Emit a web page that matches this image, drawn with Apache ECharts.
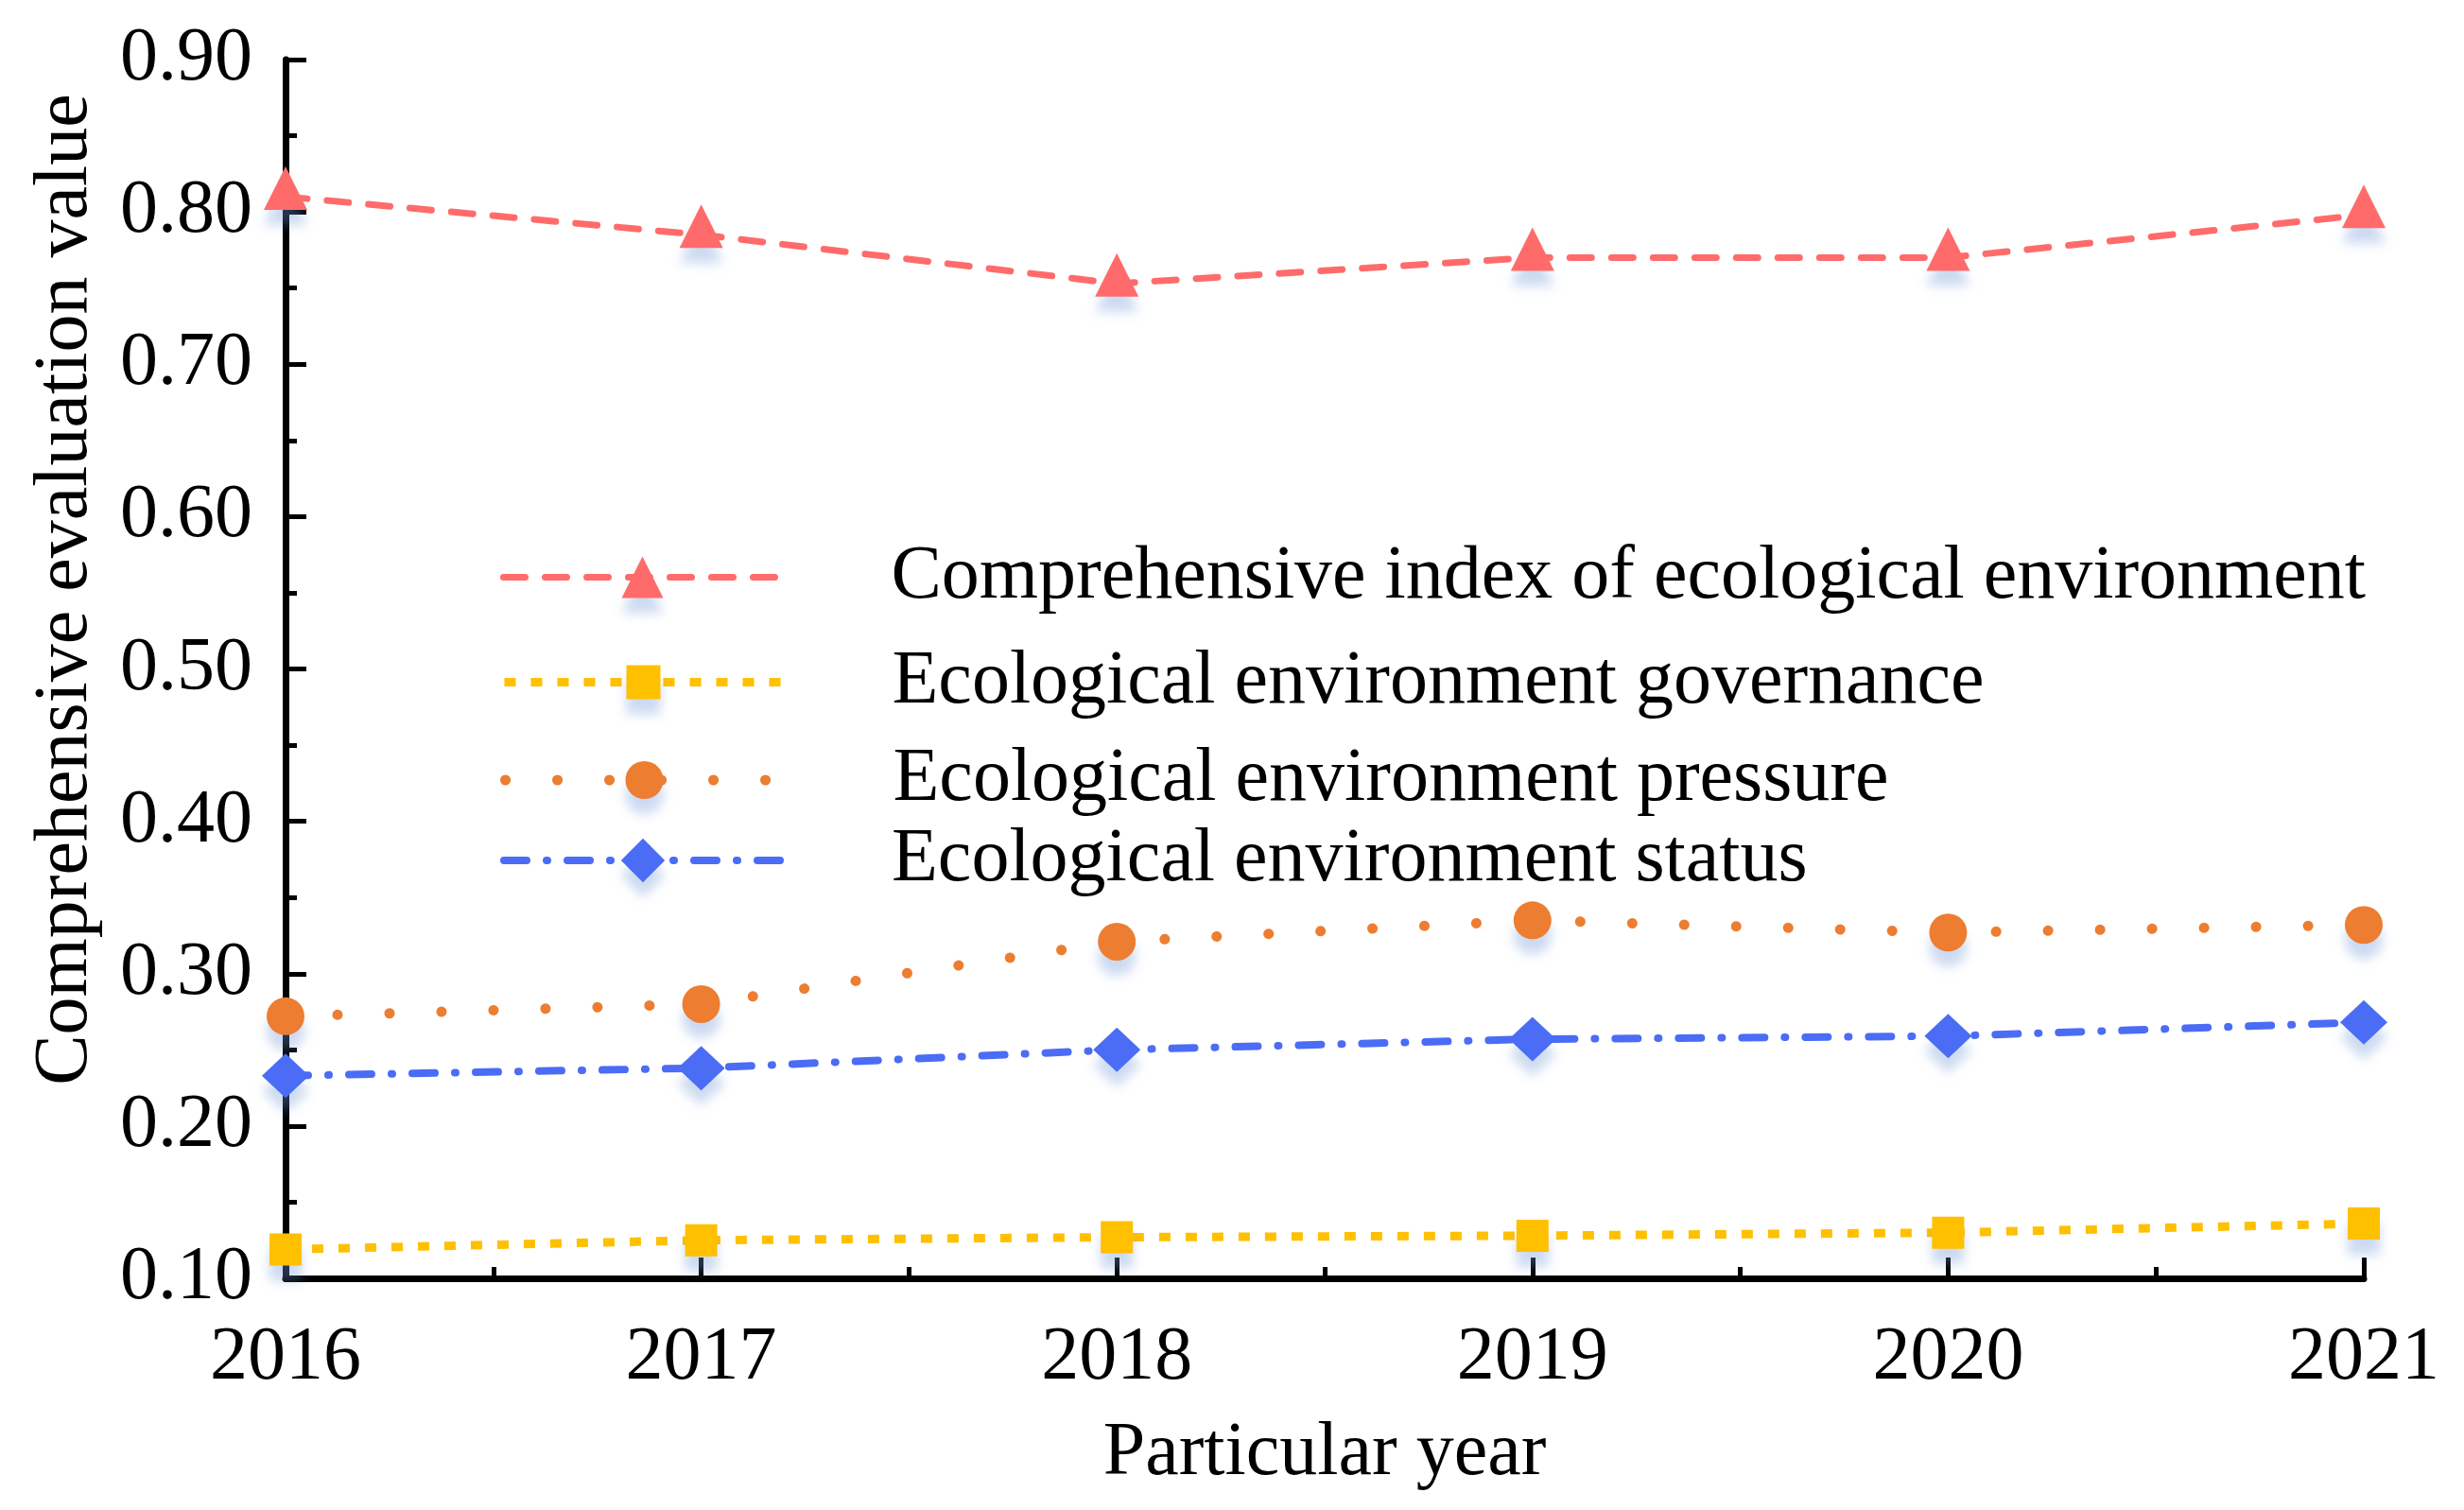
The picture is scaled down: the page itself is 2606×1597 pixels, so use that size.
<!DOCTYPE html>
<html>
<head>
<meta charset="utf-8">
<script src="https://cdn.jsdelivr.net/npm/echarts@6/dist/echarts.min.js"></script>
<style>
  html, body { margin: 0; padding: 0; background: #fff; }
  #chart { width: 2606px; height: 1597px; }
</style>
</head>
<body>
<div id="chart"></div>
<script>
// 年份
const years = [2016, 2017, 2018, 2019, 2020, 2021];

// 系列名称
const seriesNames = [
  'Comprehensive index of ecological environment',
  'Ecological environment governance',
  'Ecological environment pressure',
  'Ecological environment status'
];

// 各系列数值
const comprehensiveIndex = [0.810, 0.785, 0.753, 0.770, 0.770, 0.798];
const governanceValues = [0.119, 0.125, 0.127, 0.128, 0.130, 0.136];
const pressureValues = [0.272, 0.280, 0.321, 0.335, 0.327, 0.332];
const statusValues = [0.233, 0.238, 0.250, 0.257, 0.259, 0.268];

// 坐标轴
const yMin = 0.1;
const yMax = 0.9;
const yStep = 0.1;

const FONT = '"Liberation Serif", "Times New Roman", serif';
const colors = ['#FF6B6B', '#FFC000', '#ED7D31', '#4B6CF5'];

const toPairs = vals => years.map((y, i) => [y, vals[i]]);

const shadow = {
  shadowColor: 'rgba(110, 150, 215, 0.35)',
  shadowBlur: 12,
  shadowOffsetY: 16
};

// 线型
const lineStyles = [
  { width: 7, type: [23, 21], cap: 'round' },
  { width: 9, type: [12, 16], cap: 'butt' },
  { width: 11, type: [0.1, 54.9], cap: 'round' },
  { width: 8, type: [24, 21, 1, 21], cap: 'round' }
];

const symbols = ['triangle', 'rect', 'circle', 'diamond'];
const symbolSizes = [46, 34, 40, [50, 47]];
const allValues = [comprehensiveIndex, governanceValues, pressureValues, statusValues];

// 图例位置（行中心）和图例符号高度
const legendRows = [598, 704, 810, 899];
const legendItemHeights = [55, 45, 50, 58];

const chart = echarts.init(document.getElementById('chart'));

const option = {
  backgroundColor: '#fff',
  animation: false,
  grid: {
    left: 302,
    right: 106,
    top: 63,
    bottom: 245,
    containLabel: false
  },
  legend: seriesNames.map((name, i) => ({
    data: [name],
    left: 529,
    top: legendRows[i] - legendItemHeights[i] / 2,
    padding: 0,
    itemWidth: 294,
    itemHeight: legendItemHeights[i],
    selectedMode: false,
    lineStyle: Object.assign({ color: colors[i] }, lineStyles[i]),
    itemStyle: Object.assign({ color: colors[i] }, shadow),
    textStyle: {
      fontFamily: FONT,
      fontSize: 80,
      color: '#000',
      padding: [0, 0, 0, 111]
    }
  })),
  xAxis: {
    type: 'value',
    min: years[0],
    max: years[years.length - 1],
    interval: 1,
    name: 'Particular year',
    nameLocation: 'middle',
    nameGap: 146,
    nameTextStyle: { fontFamily: FONT, fontSize: 80, color: '#000' },
    axisLine: { show: true, lineStyle: { color: '#000', width: 7 } },
    axisTick: { show: true, inside: true, length: 22, lineStyle: { color: '#000', width: 5 } },
    minorTick: { show: true, splitNumber: 2, length: 12, lineStyle: { color: '#000', width: 5 } },
    axisLabel: {
      fontFamily: FONT,
      fontSize: 80,
      color: '#000',
      margin: 45,
      formatter: v => String(v)
    },
    splitLine: { show: false }
  },
  yAxis: {
    type: 'value',
    min: yMin,
    max: yMax,
    interval: yStep,
    name: 'Comprehensive evaluation value',
    nameLocation: 'middle',
    nameGap: 192,
    nameTextStyle: {
      fontFamily: FONT,
      fontSize: 80,
      color: '#000',
      padding: [0, 0, 0, 168]
    },
    axisLine: { show: true, lineStyle: { color: '#000', width: 7 } },
    axisTick: { show: true, inside: true, length: 22, lineStyle: { color: '#000', width: 5 } },
    minorTick: { show: true, splitNumber: 2, length: 12, lineStyle: { color: '#000', width: 5 } },
    axisLabel: {
      fontFamily: FONT,
      fontSize: 80,
      color: '#000',
      margin: 35,
      formatter: v => v.toFixed(2)
    },
    splitLine: { show: false }
  },
  series: seriesNames.map((name, i) => ({
    name: name,
    type: 'line',
    data: toPairs(allValues[i]),
    symbol: symbols[i],
    symbolSize: symbolSizes[i],
    symbolOffset: i === 0 ? [0, -9] : [0, 0],
    showSymbol: true,
    clip: false,
    z: 2 + i,
    itemStyle: Object.assign({ color: colors[i] }, shadow),
    lineStyle: Object.assign({ color: colors[i] }, lineStyles[i])
  }))
};

chart.setOption(option);
window.addEventListener('resize', () => chart.resize());
</script>
</body>
</html>
